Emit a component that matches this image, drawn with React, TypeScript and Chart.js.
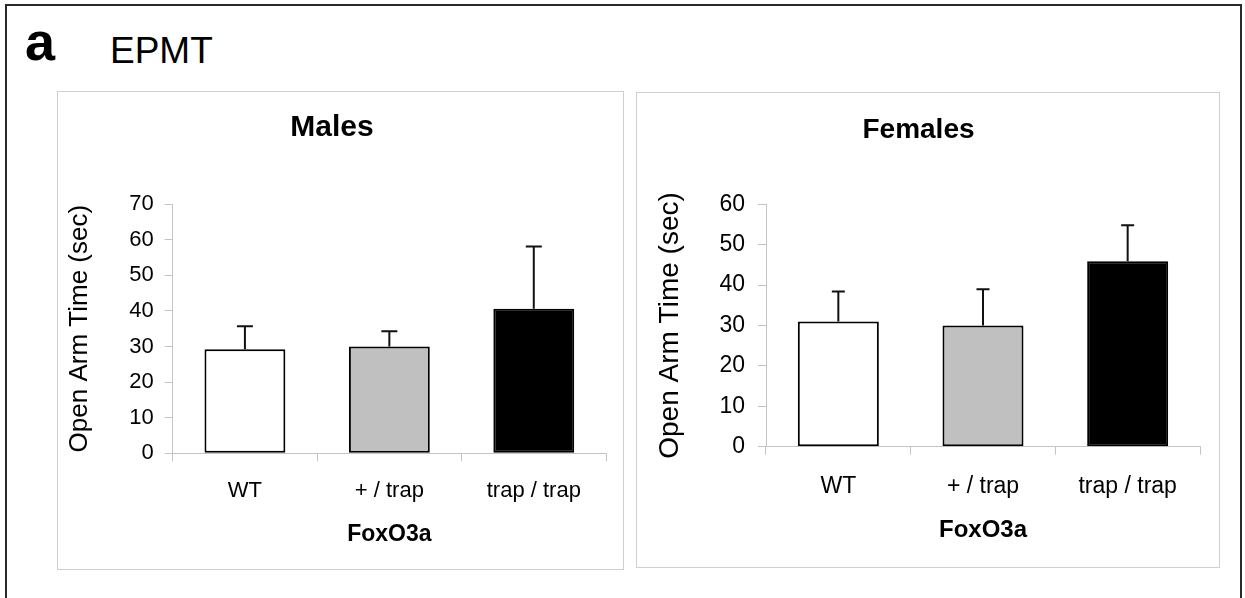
import React, { useEffect, useRef } from "react";
import { Chart, registerables } from "chart.js";

Chart.register(...registerables);

const FONT = '"Liberation Sans", Arial, Helvetica, sans-serif';

// ---- data ----
const categories = ["WT", "+ / trap", "trap / trap"];
const maleMeans = [29.2, 30.0, 40.6];
const maleErrors = [6.5, 4.3, 17.5];
const femaleMeans = [31.0, 30.0, 45.9];
const femaleErrors = [7.4, 9.0, 8.9];
const barColors = ["#ffffff", "#c0c0c0", "#000000"];
const maleTicksMax = 70;
const femaleTicksMax = 60;
const yTitle = "Open Arm Time (sec)";
const xTitle = "FoxO3a";

const errorBarPlugin = {
  id: "errorBars",
  afterDatasetsDraw(chart: any, _args: any, opts: any) {
    const errs: number[] = opts.errors || [];
    const cap: number = opts.cap || 8;
    const meta = chart.getDatasetMeta(0);
    const ys = chart.scales.y;
    const ctx = chart.ctx;
    const data = chart.data.datasets[0].data as number[];
    ctx.save();
    ctx.strokeStyle = "#111";
    ctx.lineWidth = 2;
    meta.data.forEach((bar: any, i: number) => {
      const top = ys.getPixelForValue(data[i] + errs[i]);
      ctx.beginPath();
      ctx.moveTo(bar.x, bar.y);
      ctx.lineTo(bar.x, top);
      ctx.moveTo(bar.x - cap, top);
      ctx.lineTo(bar.x + cap, top);
      ctx.stroke();
    });
    ctx.restore();
  },
};

type PanelCfg = {
  title: string;
  means: number[];
  errors: number[];
  max: number;
  w: number;
  h: number;
  yWidth: number;
  xHeight: number;
  padRight: number;
  titleSize: number;
  titlePadTop: number;
  titlePadBottom: number;
  tickSize: number;
  yTitleSize: number;
  yTitlePad: number;
  yTickPad: number;
  xTickPad: number;
  xTitleSize: number;
  xTitlePadBottom: number;
  cap: number;
};

function Panel({ cfg }: { cfg: PanelCfg }) {
  const ref = useRef<HTMLCanvasElement | null>(null);
  useEffect(() => {
    if (!ref.current) return;
    const axisGray = "#c4c4c4";
    const chart = new Chart(ref.current, {
      type: "bar",
      data: {
        labels: categories,
        datasets: [
          {
            data: cfg.means,
            backgroundColor: barColors,
            borderColor: "#000",
            borderWidth: 2,
            borderSkipped: false,
            categoryPercentage: 1,
            barPercentage: 0.56,
          },
        ],
      },
      options: {
        responsive: false,
        animation: false,
        devicePixelRatio: 1,
        layout: { padding: { left: 0, right: cfg.padRight, top: 0, bottom: 0 } },
        plugins: {
          legend: { display: false },
          tooltip: { enabled: false },
          title: {
            display: true,
            text: cfg.title,
            color: "#000",
            font: { family: FONT, size: cfg.titleSize, weight: "bold" },
            padding: { top: cfg.titlePadTop, bottom: cfg.titlePadBottom },
          },
          errorBars: { errors: cfg.errors, cap: cfg.cap },
        } as any,
        scales: {
          x: {
            grid: {
              display: true,
              drawOnChartArea: false,
              drawTicks: true,
              tickLength: 8,
              color: axisGray,
              offset: true,
            },
            border: { display: true, color: axisGray, width: 1 },
            ticks: {
              color: "#000",
              font: { family: FONT, size: cfg.tickSize },
              padding: cfg.xTickPad,
              maxRotation: 0,
              autoSkip: false,
            },
            title: {
              display: true,
              text: xTitle,
              color: "#000",
              font: { family: FONT, size: cfg.xTitleSize, weight: "bold" },
              padding: { top: 0, bottom: cfg.xTitlePadBottom },
            },
            afterFit: (s: any) => {
              s.height = cfg.xHeight;
            },
          },
          y: {
            min: 0,
            max: cfg.max,
            grid: {
              display: true,
              drawOnChartArea: false,
              drawTicks: true,
              tickLength: 8,
              color: axisGray,
            },
            border: { display: true, color: axisGray, width: 1 },
            ticks: {
              stepSize: 10,
              color: "#000",
              font: { family: FONT, size: cfg.tickSize },
              padding: cfg.yTickPad,
            },
            title: {
              display: true,
              text: yTitle,
              color: "#000",
              font: { family: FONT, size: cfg.yTitleSize },
              padding: { top: cfg.yTitlePad, bottom: 0 },
            },
            afterFit: (s: any) => {
              s.width = cfg.yWidth;
            },
          },
        },
      },
      plugins: [errorBarPlugin],
    });
    return () => chart.destroy();
  }, [cfg]);
  return <canvas ref={ref} width={cfg.w} height={cfg.h} style={{ display: "block", width: cfg.w, height: cfg.h }} />;
}

const maleCfg: PanelCfg = {
  title: "Males",
  means: maleMeans,
  errors: maleErrors,
  max: maleTicksMax,
  w: 565,
  h: 477,
  yWidth: 114.7,
  xHeight: 115.7,
  padRight: 17,
  titleSize: 30,
  titlePadTop: 18,
  titlePadBottom: 58,
  tickSize: 22,
  yTitleSize: 26,
  yTitlePad: 6.4,
  yTickPad: 11,
  xTickPad: 16,
  xTitleSize: 23,
  xTitlePadBottom: 20.2,
  cap: 8,
};

const femaleCfg: PanelCfg = {
  title: "Females",
  means: femaleMeans,
  errors: femaleErrors,
  max: femaleTicksMax,
  w: 582,
  h: 474,
  yWidth: 129,
  xHeight: 120.3,
  padRight: 19,
  titleSize: 28,
  titlePadTop: 20,
  titlePadBottom: 57.7,
  tickSize: 23,
  yTitleSize: 28,
  yTitlePad: 16.2,
  yTickPad: 13,
  xTickPad: 18,
  xTitleSize: 24,
  xTitlePadBottom: 21.8,
  cap: 6.5,
};

export default function App() {
  return (
    <div
      style={{
        position: "absolute",
        left: 0,
        top: 0,
        width: 1245,
        height: 598,
        overflow: "hidden",
        background: "#fff",
        fontFamily: FONT,
      }}
    >
      <div
        style={{
          position: "absolute",
          left: 5,
          top: 4,
          width: 1237,
          height: 700,
          border: "2px solid #2a2a2a",
          boxSizing: "border-box",
        }}
      />
      <div
        style={{
          position: "absolute",
          left: 25,
          top: 14,
          fontSize: 54,
          fontWeight: "bold",
          lineHeight: 1,
          color: "#000",
        }}
      >
        a
      </div>
      <div
        style={{
          position: "absolute",
          left: 110,
          top: 32,
          fontSize: 37,
          lineHeight: 1,
          color: "#000",
        }}
      >
        EPMT
      </div>
      <div
        style={{
          position: "absolute",
          left: 57,
          top: 91,
          width: 567,
          height: 479,
          border: "1px solid #cfcfcf",
          boxSizing: "border-box",
        }}
      >
        <Panel cfg={maleCfg} />
      </div>
      <div
        style={{
          position: "absolute",
          left: 636,
          top: 92,
          width: 584,
          height: 476,
          border: "1px solid #cfcfcf",
          boxSizing: "border-box",
        }}
      >
        <Panel cfg={femaleCfg} />
      </div>
    </div>
  );
}
